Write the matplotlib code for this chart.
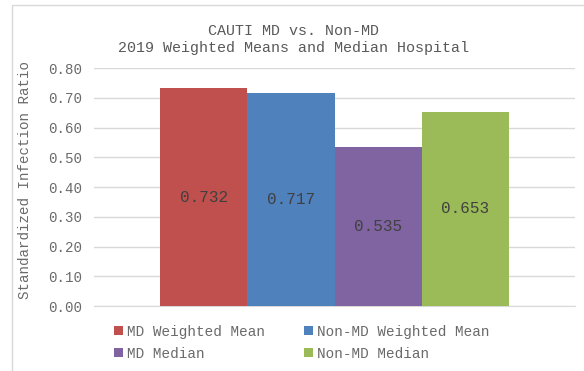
import matplotlib.pyplot as plt
from matplotlib.patches import Rectangle

series = ['MD Weighted Mean', 'Non-MD Weighted Mean', 'MD Median', 'Non-MD Median']
values = [0.732, 0.717, 0.535, 0.653]
colors = ['#C0504D', '#4F81BD', '#8064A2', '#9BBB59']
yticks = [0.0, 0.1, 0.2, 0.3, 0.4, 0.5, 0.6, 0.7, 0.8]

plt.rcParams['font.family'] = ['Liberation Mono', 'DejaVu Sans Mono']

fig = plt.figure(figsize=(5.84, 3.71), dpi=100)
# chart frame
fig.patches.append(Rectangle((12 / 584, -0.05), 1.0, 1 - 5 / 371 + 0.05,
                             transform=fig.transFigure, fill=False,
                             edgecolor='#D9D9D9', linewidth=1.0))

ax = fig.add_axes([94 / 584, 1 - 306 / 371, (575 - 94) / 584, (306 - 68) / 371])

bars = []
for i, (name, v, c) in enumerate(zip(series, values, colors)):
    b = ax.bar(i, v, width=1.0, color=c, label=name, zorder=2)
    bars.append(b)
    ax.text(i, v / 2, '%.3f' % v, ha='center', va='center',
            fontsize=11.5, color='#404040', zorder=3)

gap = 0.76
ax.set_xlim(-0.5 - gap, 3.5 + gap)
ax.set_ylim(0, 0.8)
ax.set_yticks(yticks)
ax.set_yticklabels(['%.2f' % t for t in yticks])
ax.set_xticks([])
ax.tick_params(axis='y', length=0, pad=8.5, labelsize=10.2, labelcolor='#6A6A6A')
ax.grid(axis='y', color='#D9D9D9', linewidth=1.0, zorder=0)
for s in ['top', 'right', 'left']:
    ax.spines[s].set_visible(False)
ax.spines['bottom'].set_color('#D9D9D9')
ax.spines['bottom'].set_zorder(1)

fig.text(294 / 584, 1 - 39.5 / 371, 'CAUTI MD vs. Non-MD\n2019 Weighted Means and Median Hospital',
         ha='center', va='center', fontsize=10.8, color='#595959', linespacing=1.3)
fig.text(25 / 584, 1 - 180 / 371, 'Standardized Infection Ratio', rotation=90,
         ha='center', va='center', fontsize=10.2, color='#6A6A6A')

# row-wise legend order for two columns
order = [0, 2, 1, 3]
leg = fig.legend([bars[i] for i in order], [series[i] for i in order], ncol=2,
                 loc='upper left', bbox_to_anchor=(114 / 584, 1 - 325 / 371),
                 frameon=False, fontsize=10.4, handlelength=0.6, handleheight=0.6,
                 handletextpad=0.3, columnspacing=2.7, labelspacing=0.55,
                 borderaxespad=0, borderpad=0)
for t in leg.get_texts():
    t.set_color('#6A6A6A')

fig.savefig('out.png', dpi=100)
